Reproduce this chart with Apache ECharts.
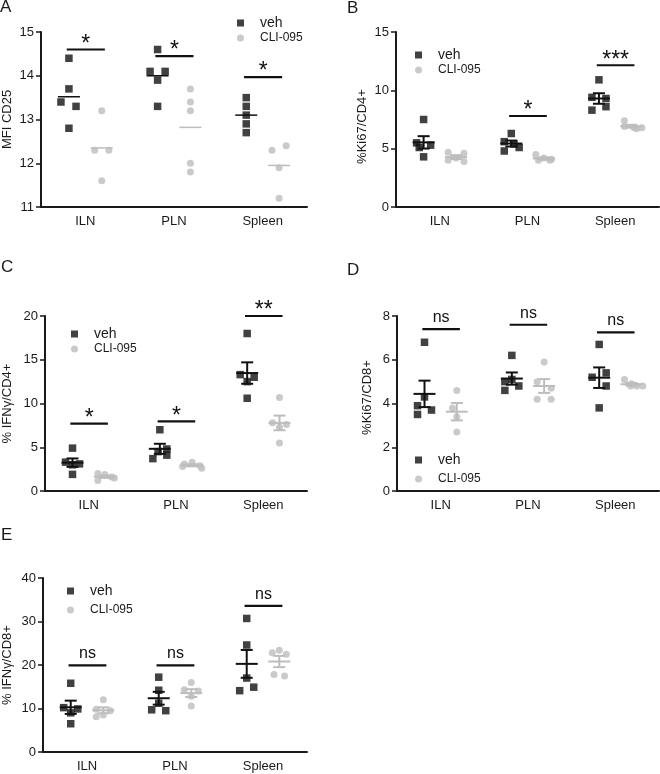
<!DOCTYPE html>
<html><head><meta charset="utf-8">
<script src="https://cdn.jsdelivr.net/npm/echarts@6/dist/echarts.min.js"></script>
<style>html,body{margin:0;padding:0;background:#fff}#c{width:660px;height:774px}</style>
</head><body><div id="c"></div>
<script>
// ---------------- DATA ----------------
const categories = ['ILN', 'PLN', 'Spleen'];
const groupNames = ['veh', 'CLI-095'];

// Panel A: MFI CD25
const aTicks = [11, 12, 13, 14, 15];
const aVeh = [[14.4, 13.7, 13.4, 13.3, 12.8], [14.6, 14.1, 14.1, 13.9, 13.3], [13.5, 13.3, 13.1, 12.9, 12.7]];
const aCli = [[13.2, 12.3, 12.3, 11.6], [13.7, 13.4, 13.2, 12.0, 11.8], [12.4, 12.3, 11.9, 11.2]];
const aSig = [[0, 14.6, '*'], [1, 14.45, '*'], [2, 13.97, '*']];

// Panel B: %Ki67/CD4+
const bTicks = [0, 5, 10, 15];
const bVeh = [[7.5, 5.5, 5.3, 5.1, 4.3], [6.3, 5.6, 5.4, 5.1, 4.8], [10.9, 9.4, 9.3, 8.6, 8.3]];
const bCli = [[4.7, 4.6, 4.2, 4.0, 3.9], [4.5, 4.2, 4.1, 4.0, 4.0], [7.4, 6.9, 6.8, 6.8, 6.7]];
const bSig = [[1, 7.8, '*'], [2, 12.15, '***']];

// Panel C: % IFNγ/CD4+
const cTicks = [0, 5, 10, 15, 20];
const cVeh = [[4.9, 3.3, 3.1, 3.0, 1.9], [7.0, 4.8, 4.5, 4.1, 3.7], [18.0, 13.3, 13.0, 12.5, 10.6]];
const cCli = [[2.0, 1.9, 1.6, 1.5, 1.2], [3.3, 3.1, 2.9, 2.8, 2.6], [10.7, 7.8, 7.6, 7.3, 5.5]];
const cSig = [[0, 7.7, '*'], [1, 7.95, '*'], [2, 20.0, '**']];

// Panel D: %Ki67/CD8+
const dTicks = [0, 2, 4, 6, 8];
const dVeh = [[6.8, 4.3, 3.9, 3.7, 3.5], [6.2, 5.1, 5.0, 4.8, 4.6], [6.7, 5.4, 5.2, 4.8, 3.8]];
const dCli = [[4.6, 3.8, 3.4, 2.7], [5.9, 5.0, 4.7, 4.2, 4.2], [5.1, 4.9, 4.8, 4.8, 4.8]];
const dSig = [[0, 7.4, 'ns'], [1, 7.6, 'ns'], [2, 7.25, 'ns']];

// Panel E: % IFNγ/CD8+
const eTicks = [0, 10, 20, 30, 40];
const eVeh = [[15.8, 10.2, 9.9, 9.0, 6.5], [17.2, 14.2, 11.2, 9.7, 9.5], [30.7, 24.6, 17.0, 14.9, 14.1]];
const eCli = [[12.0, 9.8, 9.5, 8.5, 8.1], [16.0, 14.3, 14.0, 12.8, 10.6], [23.4, 22.8, 22.5, 17.8, 17.5]];
const eSig = [[0, 19.9, 'ns'], [1, 19.9, 'ns'], [2, 33.6, 'ns']];

// horizontal scatter (jitter) of points within a group, in category-band units
const aVehJit = [[0, 0, -0.09, 0.08, 0], [0, -0.085, 0.085, 0, 0], [0, 0, 0, 0, 0]];
const aCliJit = [[0, -0.08, 0.08, 0], [0, 0, 0, 0, 0], [0.08, -0.08, 0, 0]];
const bVehJit = [[0, -0.08, 0.08, -0.05, 0], [0, -0.08, 0.03, 0.09, -0.08], [0, -0.08, 0.08, 0.08, -0.08]];
const bCliJit = [[-0.09, 0.09, 0, -0.09, 0.09], [-0.09, 0, 0.09, -0.06, 0.07], [-0.08, -0.08, 0.03, 0.12, 0.06]];
const cVehJit = [[0, -0.08, 0.08, 0, 0], [0, 0.08, -0.02, 0.08, -0.08], [0, -0.08, 0.08, 0, 0]];
const cCliJit = [[-0.08, 0, 0.08, 0.11, -0.08], [0, -0.09, 0.09, -0.11, 0.11], [0, -0.08, 0.08, 0, 0]];
const dVehJit = [[0, 0, -0.08, 0.08, -0.08], [0, 0, -0.08, 0.08, -0.08], [0, 0.08, -0.08, 0.08, 0]];
const dCliJit = [[0, -0.05, 0, 0], [0, -0.08, 0.08, -0.08, 0.08], [-0.08, 0, 0.06, 0.13, -0.01]];
const eVehJit = [[0, -0.08, 0.08, 0, 0], [0, 0, 0, -0.08, 0.08], [0, 0, 0, 0.08, -0.08]];
const eCliJit = [[0, -0.08, 0.08, 0, -0.08], [0, -0.08, 0.08, 0, 0], [0, -0.08, 0.08, -0.06, 0.06]];

// ---------------- LAYOUT / STYLE ----------------
const FONT = 'Liberation Sans, Arial, Helvetica, sans-serif';
const VEH_COLOR = '#111111';
const CLI_COLOR = '#bdbdbd';
const AXIS_COLOR = '#1a1a1a';
const GROUP_OFFSET = 0.185;

const panels = [
  {letter: 'A', lx: 0, ly: 7, ticks: aTicks, veh: aVeh, cli: aCli, vj: aVehJit, cj: aCliJit, sig: aSig, yname: 'MFI CD25', namePad: [0, 0, 0, 0],
   grid: {left: 41, top: 32, width: 266, height: 175}, nameGap: 27, errBars: false, legend: {left: 232, top: 11, itemGap: 2}},
  {letter: 'B', lx: 347, ly: 8, ticks: bTicks, veh: bVeh, cli: bCli, vj: bVehJit, cj: bCliJit, sig: bSig, yname: '%Ki67/CD4+', namePad: [0, 14, 0, 0],
   grid: {left: 396, top: 32, width: 263, height: 175}, nameGap: 27, errBars: true, legend: {left: 410, top: 43, itemGap: 2}},
  {letter: 'C', lx: 1, ly: 267, ticks: cTicks, veh: cVeh, cli: cCli, vj: cVehJit, cj: cCliJit, sig: cSig, yname: '% IFNγ/CD4+', namePad: [0, 0, 0, 0],
   grid: {left: 45, top: 316, width: 262, height: 175}, nameGap: 31, errBars: true, legend: {left: 66, top: 322, itemGap: 2}},
  {letter: 'D', lx: 347, ly: 270, ticks: dTicks, veh: dVeh, cli: dCli, vj: dVehJit, cj: dCliJit, sig: dSig, yname: '%Ki67/CD8+', namePad: [0, 0, 0, 12],
   grid: {left: 397, top: 316, width: 262, height: 175}, nameGap: 23, errBars: true, legend: {left: 410, top: 448, itemGap: 6}},
  {letter: 'E', lx: 1, ly: 535, ticks: eTicks, veh: eVeh, cli: eCli, vj: eVehJit, cj: eCliJit, sig: eSig, yname: '% IFNγ/CD8+', namePad: [0, 0, 0, 0],
   grid: {left: 43, top: 578, width: 264, height: 174}, nameGap: 29, errBars: true, legend: {left: 62, top: 579, itemGap: 6}}
];

function mean(a) { return a.reduce((s, v) => s + v, 0) / a.length; }
function sem(a) {
  const m = mean(a);
  const v = a.reduce((s, x) => s + (x - m) * (x - m), 0) / (a.length - 1);
  return Math.sqrt(v) / Math.sqrt(a.length);
}

function scatterData(groups, jit, sign) {
  const out = [];
  groups.forEach((vals, ci) => vals.forEach((v, k) => out.push([ci + 0.5 + sign * GROUP_OFFSET + jit[ci][k], v])));
  return out;
}
function statData(groups, sign, g) {
  return groups.map((vals, ci) => {
    const m = mean(vals), s = sem(vals);
    return [ci + 0.5 + sign * GROUP_OFFSET, m, m - s, m + s, g];
  });
}

function makeErrRender(showErr) {
  return function (params, api) {
    const x = api.value(0), m = api.value(1), lo = api.value(2), hi = api.value(3), g = api.value(4);
    const c = api.coord([x, m]);
    const color = g === 0 ? VEH_COLOR : CLI_COLOR;
    const lw = showErr ? 2 : 1.5;
    const children = [{type: 'line', shape: {x1: c[0] - 11, y1: c[1], x2: c[0] + 11, y2: c[1]}, style: {stroke: color, lineWidth: lw}}];
    if (showErr) {
      const pl = api.coord([x, lo]), ph = api.coord([x, hi]);
      children.push({type: 'line', shape: {x1: c[0], y1: pl[1], x2: c[0], y2: ph[1]}, style: {stroke: color, lineWidth: lw}});
      children.push({type: 'line', shape: {x1: c[0] - 6, y1: pl[1], x2: c[0] + 6, y2: pl[1]}, style: {stroke: color, lineWidth: lw}});
      children.push({type: 'line', shape: {x1: c[0] - 6, y1: ph[1], x2: c[0] + 6, y2: ph[1]}, style: {stroke: color, lineWidth: lw}});
    }
    return {type: 'group', children: children};
  };
}

function sigRender(params, api, labels) {
  const ci = api.value(0), y = api.value(1);
  const label = labels[params.dataIndex];
  const p1 = api.coord([ci + 0.5 - 0.21, y]);
  const p2 = api.coord([ci + 0.5 + 0.22, y]);
  const isNs = label === 'ns';
  return {type: 'group', children: [
    {type: 'line', shape: {x1: p1[0], y1: p1[1], x2: p2[0], y2: p2[1]}, style: {stroke: '#111', lineWidth: 2.2}},
    {type: 'text', style: {text: label, x: (p1[0] + p2[0]) / 2, y: p1[1] - (isNs ? 11.5 : 5),
      align: 'center', verticalAlign: 'middle', fontSize: isNs ? 16 : 23, fontFamily: FONT, fill: '#111'}}
  ]};
}

const grid = [], xAxis = [], yAxis = [], series = [], legend = [], graphic = [];
panels.forEach((p, i) => {
  grid.push(Object.assign({containLabel: false}, p.grid));
  xAxis.push({type: 'category', gridIndex: i, data: categories, boundaryGap: true,
    axisLine: {onZero: false, lineStyle: {color: AXIS_COLOR, width: 2}},
    axisTick: {alignWithLabel: true, length: 6, lineStyle: {color: AXIS_COLOR, width: 1.5}},
    axisLabel: {fontSize: 13, color: AXIS_COLOR, margin: 8, fontFamily: FONT}, splitLine: {show: false}});
  xAxis.push({type: 'value', gridIndex: i, min: 0, max: categories.length, show: false});
  const t = p.ticks;
  yAxis.push({type: 'value', gridIndex: i, min: t[0], max: t[t.length - 1], interval: t[1] - t[0],
    name: p.yname, nameLocation: 'middle', nameGap: p.nameGap, nameRotate: 90,
    nameTextStyle: {fontSize: 13, color: AXIS_COLOR, fontFamily: FONT, padding: p.namePad},
    axisLine: {show: true, onZero: false, lineStyle: {color: AXIS_COLOR, width: 2}},
    axisTick: {show: true, length: 5, lineStyle: {color: AXIS_COLOR, width: 1.5}},
    axisLabel: {fontSize: 13, color: AXIS_COLOR, margin: 7, fontFamily: FONT}, splitLine: {show: false}});
  const xi = 2 * i + 1;
  series.push({type: 'scatter', name: groupNames[0], xAxisIndex: xi, yAxisIndex: i, symbol: 'rect', symbolSize: 7.5,
    itemStyle: {color: VEH_COLOR}, data: scatterData(p.veh, p.vj, -1), z: 2});
  series.push({type: 'scatter', name: groupNames[1], xAxisIndex: xi, yAxisIndex: i, symbol: 'circle', symbolSize: 7,
    itemStyle: {color: CLI_COLOR}, data: scatterData(p.cli, p.cj, 1), z: 2});
  series.push({type: 'custom', name: 'stats', xAxisIndex: xi, yAxisIndex: i, renderItem: makeErrRender(p.errBars),
    data: statData(p.veh, -1, 0).concat(statData(p.cli, 1, 1)), z: 3, silent: true});
  const labels = p.sig.map(s => s[2]);
  series.push({type: 'custom', name: 'sig', xAxisIndex: xi, yAxisIndex: i,
    renderItem: function (params, api) { return sigRender(params, api, labels); },
    data: p.sig.map(s => [s[0], s[1]]), z: 4, silent: true, clip: false});
  legend.push({orient: 'vertical', left: p.legend.left, top: p.legend.top, itemGap: p.legend.itemGap,
    itemWidth: 7, itemHeight: 7, selectedMode: false,
    data: [{name: groupNames[0], icon: 'rect'}, {name: groupNames[1], icon: 'circle'}],
    formatter: function (n) { return n === 'veh' ? '{v|' + n + '}' : '{c|' + n + '}'; },
    textStyle: {fontFamily: FONT, color: AXIS_COLOR, rich: {
      v: {fontSize: 14, lineHeight: 16, padding: [0, 0, 0, 11], fontFamily: FONT, color: AXIS_COLOR},
      c: {fontSize: 12, lineHeight: 16, padding: [0, 0, 0, 11], fontFamily: FONT, color: AXIS_COLOR}}}});
  graphic.push({type: 'text', left: p.lx, top: p.ly - 8, style: {text: p.letter, fontSize: 17, fontFamily: FONT, fill: AXIS_COLOR}});
});

const chart = echarts.init(document.getElementById('c'), null, {renderer: 'canvas'});
chart.setOption({animation: false, backgroundColor: '#fff', textStyle: {fontFamily: FONT},
  grid: grid, xAxis: xAxis, yAxis: yAxis, series: series, legend: legend, graphic: graphic});
</script>
</body></html>
